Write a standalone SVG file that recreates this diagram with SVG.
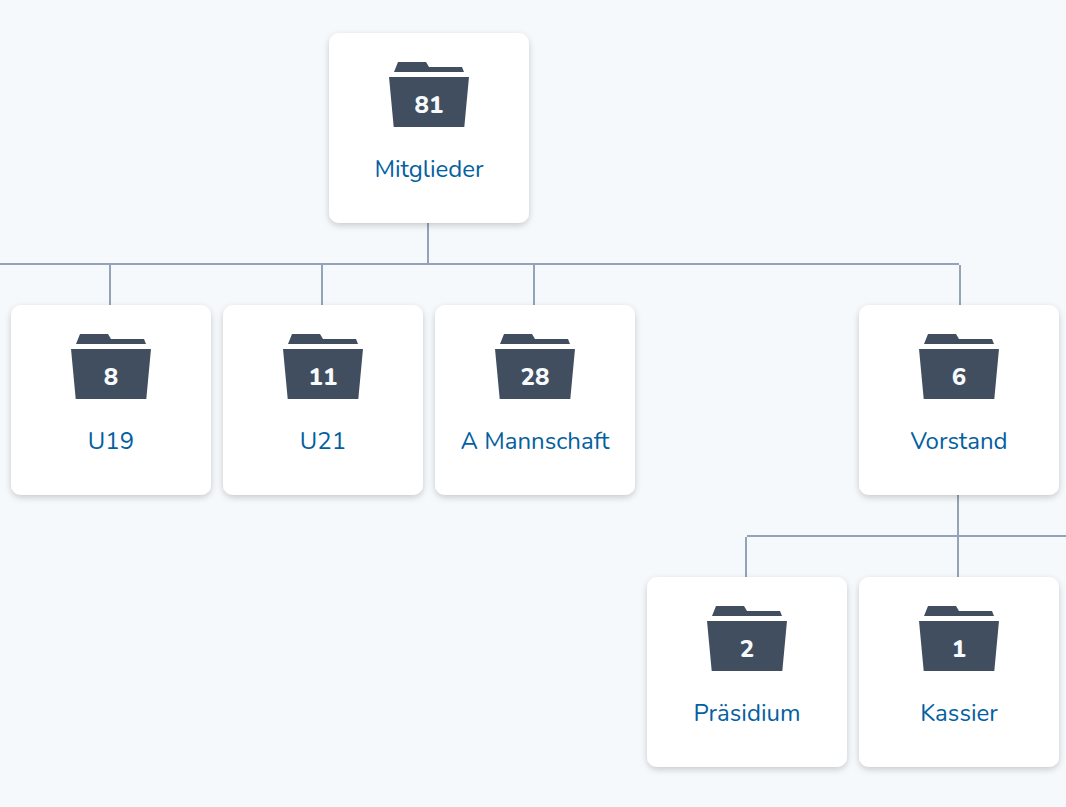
<svg xmlns="http://www.w3.org/2000/svg" width="1066" height="807" viewBox="0 0 1066 807">
<style>
.card{fill:#fff;filter:url(#sh)}
.lbl{font-family:"Nunito","Noto Sans",sans-serif;font-size:24px;fill:#03609f;text-anchor:middle}
.num{font-family:"Nunito","DejaVu Sans",sans-serif;font-size:24px;font-weight:800;fill:#f7fafc;text-anchor:middle}
.ic{fill:#404e5f}
.con{fill:none;stroke:#94a3b8;stroke-width:2}
</style>
<defs>
<filter id="sh" x="-10%" y="-10%" width="120%" height="120%"><feDropShadow dx="0" dy="2.500" stdDeviation="3" flood-color="#000" flood-opacity="0.19"/></filter>
<g id="folder">
<path class="ic" d="M5 16 L9 6 L37 6 L40 11 L73 11 L75 16 Z"/>
<path class="ic" d="M0 21 H80 L75.3 71 H4.7 Z"/>
</g>
</defs>
<rect width="1066" height="807" fill="#f5f9fc"/>
<g id="connectors">
<path class="con" d="M428 223V264M0 264H959M110 265V305M322 265V305M534 265V305M960 265V305M958 495V577M747 536H1066M746 537V577"/>
</g>
<g id="node-offscreen"><rect class="card" x="-201" y="577" width="200" height="190" rx="10"/></g>
<g id="node-mitglieder"><rect class="card" x="329" y="33" width="200" height="190" rx="10"/><use href="#folder" x="389" y="56"/><text class="num" x="429" y="112.500">81</text><text class="lbl" x="429" y="177">Mitglieder</text></g>
<g id="node-u19"><rect class="card" x="11" y="305" width="200" height="190" rx="10"/><use href="#folder" x="71" y="328"/><text class="num" x="111" y="384.500">8</text><text class="lbl" x="111" y="449">U19</text></g>
<g id="node-u21"><rect class="card" x="223" y="305" width="200" height="190" rx="10"/><use href="#folder" x="283" y="328"/><text class="num" x="323" y="384.500">11</text><text class="lbl" x="323" y="449">U21</text></g>
<g id="node-a-mannschaft"><rect class="card" x="435" y="305" width="200" height="190" rx="10"/><use href="#folder" x="495" y="328"/><text class="num" x="535" y="384.500">28</text><text class="lbl" x="535" y="449">A Mannschaft</text></g>
<g id="node-vorstand"><rect class="card" x="859" y="305" width="200" height="190" rx="10"/><use href="#folder" x="919" y="328"/><text class="num" x="959" y="384.500">6</text><text class="lbl" x="959" y="449">Vorstand</text></g>
<g id="node-praesidium"><rect class="card" x="647" y="577" width="200" height="190" rx="10"/><use href="#folder" x="707" y="600"/><text class="num" x="747" y="656.500">2</text><text class="lbl" x="747" y="721">Präsidium</text></g>
<g id="node-kassier"><rect class="card" x="859" y="577" width="200" height="190" rx="10"/><use href="#folder" x="919" y="600"/><text class="num" x="959" y="656.500">1</text><text class="lbl" x="959" y="721">Kassier</text></g>
</svg>
